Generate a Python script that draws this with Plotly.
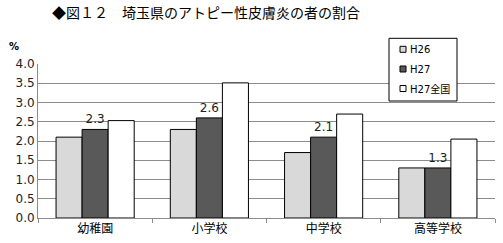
import plotly.graph_objects as go

categories = ["幼稚園", "小学校", "中学校", "高等学校"]
h26 = [2.1, 2.3, 1.7, 1.3]
h27 = [2.3, 2.6, 2.1, 1.3]
h27_national = [2.53, 3.51, 2.7, 2.05]
series_names = ["H26", "H27", "H27全国"]
y_ticks = [0.0, 0.5, 1.0, 1.5, 2.0, 2.5, 3.0, 3.5, 4.0]
title_text = "◆図１２　埼玉県のアトピー性皮膚炎の者の割合"

FONT = "DejaVu Sans, Noto Sans CJK JP, sans-serif"
colors = ["#d9d9d9", "#595959", "white"]

# plot area in pixels
L, R, T, B = 38, 8, 64, 25
W, H = 503, 243
PW, PH = W - L - R, H - T - B


def px(x):
    return (x - L) / PW


def py(y):
    return (H - B - y) / PH


fig = go.Figure()
values = [h26, h27, h27_national]
for i, (name, vals) in enumerate(zip(series_names, values)):
    kw = {}
    if i == 1:
        kw = dict(text=[f"{v:.1f}" for v in vals], textposition="outside",
                  textfont=dict(size=12, color="#222", family=FONT), cliponaxis=False)
    fig.add_trace(go.Bar(x=categories, y=vals, name=name, showlegend=False,
                         marker=dict(color=colors[i], line=dict(color="black", width=1)),
                         **kw))

shapes = [dict(type="rect", xref="paper", yref="paper",
               x0=px(389), x1=px(457), y0=py(101), y1=py(38.3),
               fillcolor="white", line=dict(color="black", width=1), layer="above")]
annotations = [
    dict(text=title_text, x=px(206), y=py(12), xref="paper", yref="paper",
         xanchor="center", yanchor="middle", showarrow=False,
         font=dict(size=14, family="Noto Sans CJK JP", color="black")),
    dict(text="<b>%</b>", x=px(14), y=py(47), xref="paper", yref="paper",
         xanchor="center", yanchor="middle", showarrow=False,
         font=dict(size=10, family=FONT)),
]
for i, name in enumerate(series_names):
    cy = [49.3, 69, 88.5][i]
    shapes.append(dict(type="rect", xref="paper", yref="paper",
                       x0=px(400), x1=px(406), y0=py(cy + 3), y1=py(cy - 3),
                       fillcolor=colors[i], line=dict(color="black", width=1), layer="above"))
    annotations.append(dict(text=name, x=px(407.5), y=py(cy), xref="paper", yref="paper",
                            xanchor="left", yanchor="middle", showarrow=False,
                            font=dict(size=10, family=FONT, color="black")))

fig.update_layout(
    width=W, height=H,
    margin=dict(l=L, r=R, t=T, b=B),
    paper_bgcolor="white", plot_bgcolor="white",
    barmode="group", bargap=0.316, bargroupgap=0,
    font=dict(family=FONT, size=12, color="black"),
    showlegend=False,
    shapes=shapes,
    annotations=annotations,
)

fig.update_yaxes(range=[0, 4], tickvals=y_ticks, ticktext=[f"{v:.1f}" for v in y_ticks],
                 showgrid=True, gridcolor="#8c8c8c", gridwidth=1,
                 showline=True, linecolor="#8c8c8c", linewidth=1,
                 ticks="", zeroline=False, tickfont=dict(size=12, color="#222"))
fig.update_xaxes(showline=True, linecolor="#8c8c8c", linewidth=1,
                 ticks="outside", tickson="boundaries", ticklen=4, tickcolor="#8c8c8c",
                 tickfont=dict(size=12, family="Noto Sans CJK JP", color="black"))

fig.write_html("out.html")
